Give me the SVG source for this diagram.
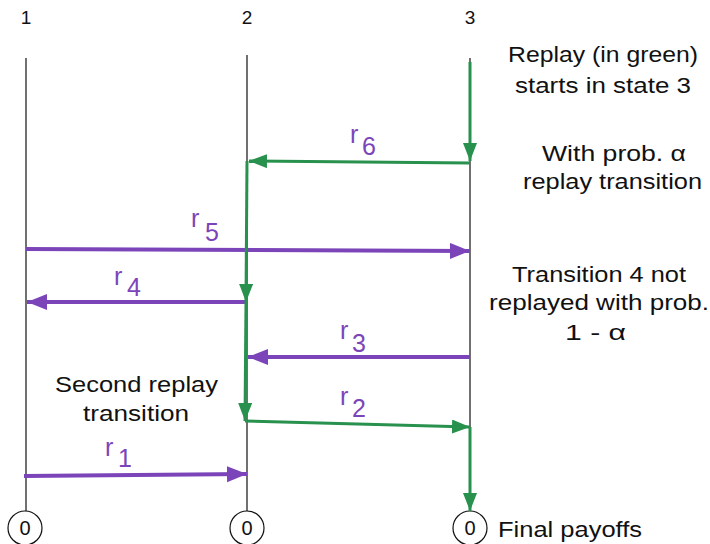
<svg xmlns="http://www.w3.org/2000/svg" width="710" height="544" viewBox="0 0 710 544">
  <style>
    .txt { font-family: "Liberation Sans", Arial, sans-serif; fill: #111; }
    .lbl { font-size: 19px; text-anchor: middle; }
    .note { font-size: 22.5px; }
    .r { font-family: "Liberation Sans", Arial, sans-serif; fill: #7b45b9; font-size: 25px; }
    .life { stroke: #111; stroke-width: 1.2; fill: none; }
    .purple { stroke: #7b45b9; stroke-width: 4; fill: none; marker-end: url(#ahP); }
    .green { stroke: #27914d; stroke-width: 3; fill: none; }
    .garrow { marker-end: url(#ahG); }
    .term { fill: #fff; stroke: #111; stroke-width: 1.2; }
    .zero { font-family: "Liberation Sans", Arial, sans-serif; font-size: 20px; text-anchor: middle; fill: #111; }
  </style>
  <defs>
    <marker id="ahP" markerUnits="userSpaceOnUse" markerWidth="22" markerHeight="18" refX="20" refY="8" orient="auto">
      <path d="M0,0 L20,8 L0,16 Z" fill="#7b45b9"/>
    </marker>
    <marker id="ahG" markerUnits="userSpaceOnUse" markerWidth="20" markerHeight="16" refX="18" refY="7" orient="auto">
      <path d="M0,0 L18,7 L0,14 Z" fill="#27914d"/>
    </marker>
  </defs>

  <!-- state lifelines -->
  <g id="state1">
    <text class="txt lbl" x="26" y="24">1</text>
    <line class="life" x1="26" y1="58" x2="26" y2="511"/>
    <circle class="term" cx="25" cy="528" r="17"/>
    <text class="zero" x="25" y="535">0</text>
  </g>
  <g id="state2">
    <text class="txt lbl" x="247" y="24">2</text>
    <line class="life" x1="247" y1="55" x2="247" y2="511"/>
    <circle class="term" cx="247" cy="528" r="17"/>
    <text class="zero" x="247" y="535">0</text>
  </g>
  <g id="state3">
    <text class="txt lbl" x="470" y="24">3</text>
    <line class="life" x1="470" y1="58" x2="470" y2="511"/>
    <circle class="term" cx="470" cy="528" r="17"/>
    <text class="zero" x="470" y="535">0</text>
  </g>

  <!-- transitions -->
  <g id="connectors">
    <!-- original episode (purple) -->
    <line class="purple" x1="26" y1="249" x2="470" y2="251"/>
    <line class="purple" x1="247" y1="302" x2="27" y2="302"/>
    <line class="purple" x1="470" y1="357" x2="248" y2="357"/>
    <line class="purple" x1="24" y1="476" x2="247" y2="474"/>

    <!-- replay (green) -->
    <line class="green garrow" x1="470" y1="62" x2="470" y2="161"/>
    <line class="green garrow" x1="470" y1="163" x2="249" y2="161"/>
    <line class="green garrow" x1="247" y1="161" x2="246" y2="302"/>
    <line class="green garrow" x1="246" y1="302" x2="245" y2="421"/>
    <line class="green garrow" x1="245" y1="421" x2="470" y2="427"/>
    <line class="green garrow" x1="470" y1="427" x2="470" y2="511"/>
  </g>

  <!-- transition reward labels -->
  <g id="reward-labels">
    <text class="r" x="350" y="143">r</text><text class="r" x="362" y="155">6</text>
    <text class="r" x="191" y="227">r</text><text class="r" x="205" y="241">5</text>
    <text class="r" x="114" y="285">r</text><text class="r" x="127" y="296">4</text>
    <text class="r" x="340" y="339">r</text><text class="r" x="352" y="352">3</text>
    <text class="r" x="340" y="405">r</text><text class="r" x="352" y="417">2</text>
    <text class="r" x="105" y="456">r</text><text class="r" x="118" y="467">1</text>
  </g>

  <!-- annotations -->
  <g id="notes">
    <text class="txt note" x="508" y="62" textLength="190" lengthAdjust="spacingAndGlyphs">Replay (in green)</text>
    <text class="txt note" x="515" y="93" textLength="176" lengthAdjust="spacingAndGlyphs">starts in state 3</text>
    <text class="txt note" x="542" y="161" textLength="144" lengthAdjust="spacingAndGlyphs">With prob. α</text>
    <text class="txt note" x="523" y="189" textLength="179" lengthAdjust="spacingAndGlyphs">replay transition</text>
    <text class="txt note" x="512" y="282" textLength="174" lengthAdjust="spacingAndGlyphs">Transition 4 not</text>
    <text class="txt note" x="489" y="310" textLength="220" lengthAdjust="spacingAndGlyphs">replayed with prob.</text>
    <text class="txt note" x="565" y="340" textLength="61" lengthAdjust="spacingAndGlyphs">1 - α</text>
    <text class="txt note" x="55" y="392" textLength="163" lengthAdjust="spacingAndGlyphs">Second replay</text>
    <text class="txt note" x="83" y="421" textLength="106" lengthAdjust="spacingAndGlyphs">transition</text>
    <text class="txt note" x="498" y="537" textLength="144" lengthAdjust="spacingAndGlyphs">Final payoffs</text>
  </g>
</svg>
